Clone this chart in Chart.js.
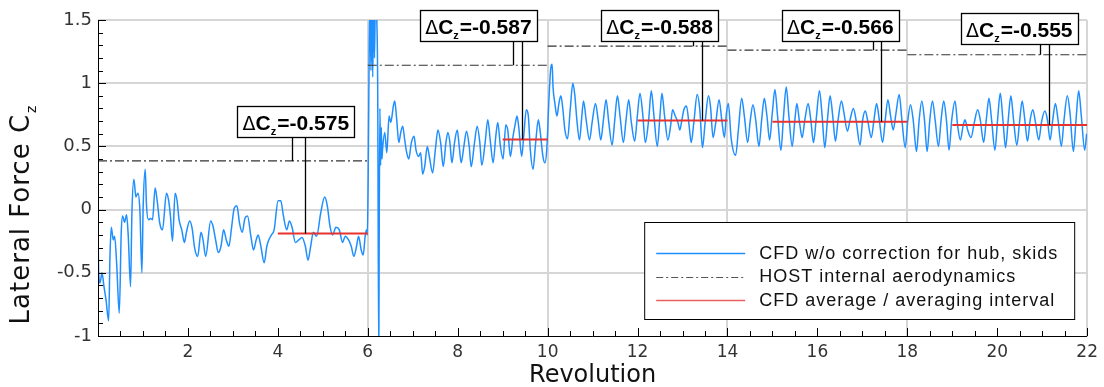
<!DOCTYPE html>
<html><head><meta charset="utf-8">
<script src="https://cdn.jsdelivr.net/npm/chart.js@4/dist/chart.umd.min.js"></script>
<style>html,body{margin:0;padding:0;background:#fff}canvas{display:block}</style>
</head><body>
<canvas id="c" width="1104" height="387"></canvas>
<script>
// ---------- DATA ----------
// CFD lateral force, [revolution, Cz] pairs, per HOST interval
const cfdRev0to6 = [[0,-0.15],[0.015,-0.50],[0.044,-0.58],[0.089,-0.50],[0.133,-0.61],[0.177,-0.71],[0.237,-0.88],[0.266,-0.37],[0.296,-0.14],[0.340,-0.24],[0.370,-0.21],[0.414,-0.42],[0.473,-0.82],[0.517,-0.18],[0.547,-0.05],[0.591,-0.10],[0.636,-0.04],[0.673,-0.21],[0.724,-0.61],[0.754,-0.03],[0.798,0.24],[0.843,0.10],[0.887,0.13],[0.931,0.00],[0.976,-0.50],[1.005,0.03],[1.050,0.32],[1.079,0.03],[1.123,-0.08],[1.168,-0.07],[1.212,-0.08],[1.271,0.17],[1.316,0.07],[1.375,-0.11],[1.434,-0.16],[1.523,0.13],[1.567,0.08],[1.611,-0.05],[1.656,-0.25],[1.715,0.13],[1.759,0.07],[1.803,-0.08],[1.863,-0.16],[1.922,-0.26],[1.966,-0.18],[2.040,-0.09],[2.099,-0.16],[2.143,-0.29],[2.217,-0.37],[2.291,-0.18],[2.336,-0.24],[2.395,-0.37],[2.506,-0.09],[2.557,-0.13],[2.616,-0.24],[2.676,-0.34],[2.735,-0.29],[2.794,-0.16],[2.853,-0.24],[2.912,-0.29],[2.971,-0.14],[3.030,0.01],[3.089,0.03],[3.149,-0.11],[3.208,-0.18],[3.267,-0.07],[3.326,-0.05],[3.400,-0.21],[3.459,-0.32],[3.518,-0.24],[3.562,-0.20],[3.622,-0.29],[3.696,-0.42],[3.755,-0.29],[3.799,-0.24],[3.858,-0.20],[3.917,-0.16],[4.006,0.07],[4.065,0.07],[4.124,-0.05],[4.198,-0.16],[4.257,-0.09],[4.316,-0.14],[4.390,-0.26],[4.464,-0.24],[4.538,-0.22],[4.612,-0.29],[4.671,-0.40],[4.730,-0.29],[4.789,-0.18],[4.863,-0.21],[4.952,-0.03],[5.041,0.10],[5.100,0.03],[5.159,-0.13],[5.218,-0.20],[5.292,-0.14],[5.366,-0.16],[5.440,-0.26],[5.499,-0.21],[5.573,-0.24],[5.632,-0.29],[5.691,-0.37],[5.750,-0.29],[5.795,-0.21],[5.854,-0.32],[5.898,-0.36],[5.942,-0.21],[5.972,-0.16]];
const cfdRev6to10 = [[5.99,-0.20],[6.01,0.30],[6.03,1.20],[6.05,1.70],[6.07,1.10],[6.09,1.60],[6.11,1.05],[6.13,1.65],[6.15,1.20],[6.17,1.70],[6.19,1.60],[6.22,1.00],[6.245,-1.20],[6.255,-0.10],[6.27,0.80],[6.285,0.35],[6.30,0.65],[6.315,0.40],[6.327,0.47],[6.378,0.61],[6.423,0.45],[6.474,0.74],[6.511,0.69],[6.570,0.82],[6.600,0.86],[6.644,0.71],[6.689,0.53],[6.733,0.61],[6.777,0.66],[6.822,0.55],[6.866,0.45],[6.910,0.40],[6.970,0.53],[7.029,0.58],[7.073,0.47],[7.132,0.42],[7.176,0.45],[7.221,0.28],[7.265,0.34],[7.324,0.50],[7.369,0.42],[7.443,0.29],[7.502,0.47],[7.561,0.63],[7.620,0.53],[7.679,0.34],[7.738,0.53],[7.783,0.61],[7.827,0.53],[7.871,0.37],[7.930,0.53],[7.990,0.63],[8.034,0.50],[8.078,0.37],[8.137,0.50],[8.196,0.62],[8.256,0.50],[8.300,0.34],[8.374,0.53],[8.433,0.66],[8.492,0.53],[8.536,0.35],[8.610,0.53],[8.669,0.71],[8.729,0.53],[8.788,0.37],[8.847,0.58],[8.891,0.69],[8.950,0.50],[9.009,0.40],[9.069,0.67],[9.113,0.63],[9.172,0.42],[9.231,0.58],[9.276,0.67],[9.320,0.74],[9.364,0.63],[9.423,0.42],[9.468,0.58],[9.527,0.79],[9.571,0.74],[9.616,0.47],[9.675,0.32],[9.734,0.53],[9.793,0.71],[9.837,0.61],[9.896,0.42],[9.941,0.37],[9.985,0.50]];
const cfdRev10to16 = [[10.03,0.88],[10.07,1.12],[10.10,1.15],[10.12,0.97],[10.162,0.84],[10.207,0.74],[10.251,0.84],[10.295,0.90],[10.340,0.79],[10.384,0.63],[10.443,0.56],[10.502,0.79],[10.561,1.00],[10.606,0.90],[10.650,0.71],[10.709,0.55],[10.754,0.71],[10.798,0.86],[10.857,0.71],[10.931,0.55],[10.990,0.69],[11.064,0.84],[11.123,0.71],[11.182,0.55],[11.241,0.71],[11.300,0.87],[11.360,0.69],[11.434,0.51],[11.493,0.71],[11.552,0.90],[11.611,0.74],[11.685,0.53],[11.744,0.71],[11.803,0.87],[11.862,0.69],[11.936,0.54],[11.995,0.74],[12.054,0.92],[12.114,0.76],[12.173,0.53],[12.247,0.71],[12.306,0.94],[12.365,0.74],[12.439,0.50],[12.498,0.74],[12.542,0.92],[12.601,0.74],[12.675,0.55],[12.734,0.66],[12.779,0.79],[12.838,0.74],[12.897,0.69],[12.941,0.63],[12.986,0.71],[13.030,0.79],[13.089,0.82],[13.148,0.66],[13.193,0.53],[13.252,0.69],[13.326,0.91],[13.385,0.79],[13.444,0.49],[13.503,0.69],[13.577,0.90],[13.621,0.82],[13.680,0.57],[13.740,0.69],[13.813,0.87],[13.873,0.71],[13.932,0.57],[13.976,0.76],[14.020,0.84],[14.080,0.57],[14.183,0.43],[14.242,0.63],[14.316,0.88],[14.375,0.74],[14.449,0.53],[14.508,0.71],[14.567,0.83],[14.627,0.71],[14.700,0.50],[14.760,0.71],[14.819,0.88],[14.878,0.74],[14.937,0.55],[14.996,0.76],[15.055,0.95],[15.114,0.74],[15.188,0.47],[15.247,0.74],[15.307,0.97],[15.366,0.74],[15.440,0.50],[15.499,0.71],[15.543,0.84],[15.602,0.69],[15.661,0.57],[15.720,0.71],[15.794,0.84],[15.853,0.71],[15.913,0.53],[15.972,0.71],[16.046,0.94]];
const cfdRev16to22 = [[16.105,0.74],[16.164,0.49],[16.223,0.71],[16.282,0.90],[16.341,0.74],[16.401,0.54],[16.460,0.71],[16.534,0.86],[16.593,0.76],[16.667,0.62],[16.726,0.71],[16.800,0.80],[16.859,0.71],[16.948,0.51],[17.007,0.71],[17.066,0.78],[17.125,0.69],[17.199,0.57],[17.258,0.71],[17.317,0.84],[17.376,0.71],[17.450,0.53],[17.509,0.71],[17.568,0.87],[17.628,0.74],[17.687,0.63],[17.746,0.76],[17.820,0.91],[17.879,0.71],[17.953,0.49],[18.012,0.71],[18.071,0.83],[18.130,0.71],[18.204,0.46],[18.263,0.71],[18.322,0.86],[18.381,0.71],[18.440,0.46],[18.500,0.71],[18.559,0.86],[18.618,0.71],[18.692,0.50],[18.751,0.71],[18.810,0.86],[18.869,0.71],[18.928,0.47],[18.987,0.71],[19.061,0.86],[19.120,0.66],[19.180,0.55],[19.239,0.66],[19.283,0.71],[19.342,0.63],[19.416,0.57],[19.490,0.69],[19.564,0.79],[19.623,0.71],[19.697,0.53],[19.756,0.71],[19.815,0.88],[19.874,0.71],[19.948,0.47],[20.007,0.71],[20.067,0.92],[20.126,0.71],[20.185,0.49],[20.244,0.71],[20.303,0.90],[20.362,0.71],[20.436,0.51],[20.495,0.69],[20.554,0.86],[20.613,0.71],[20.672,0.54],[20.732,0.71],[20.791,0.79],[20.850,0.69],[20.924,0.55],[20.983,0.69],[21.057,0.78],[21.116,0.71],[21.175,0.55],[21.234,0.71],[21.293,0.84],[21.352,0.71],[21.426,0.50],[21.485,0.71],[21.559,0.90],[21.619,0.76],[21.693,0.46],[21.752,0.71],[21.811,0.94],[21.870,0.74],[21.944,0.47],[21.988,0.60]];

// HOST internal aerodynamics (step levels)
const hostStart = [0, 6, 10, 14, 18];
const hostEnd   = [6, 10, 14, 18, 22];
const hostValue = [0.385, 1.142, 1.293, 1.261, 1.225];

// CFD average over averaging interval
const avgStart = [4, 9, 12, 15, 19];
const avgEnd   = [6, 10, 14, 18, 22];
const avgValue = [-0.19, 0.555, 0.705, 0.695, 0.67];

// Delta annotations
const deltaLabels = ['-0.575', '-0.587', '-0.588', '-0.566', '-0.555'];
const hostLinkRev = [4.32, 9.22, 13.23, 17.24, 20.95];
const avgLinkRev  = [4.61, 9.44, 13.43, 17.42, 21.15];

// Ticks
const xTicks = [0, 2, 4, 6, 8, 10, 12, 14, 16, 18, 20, 22];
const yTicks = [-1, -0.5, 0, 0.5, 1, 1.5];
const xGridAt = [6, 10, 14, 18, 22];

const seriesLabels = ['CFD w/o correction for hub, skids', 'HOST internal aerodynamics', 'CFD average / averaging interval'];

// ---------- build library data ----------
const cfdPoints = [].concat(cfdRev0to6, cfdRev6to10, cfdRev10to16, cfdRev16to22).map(p => ({x: p[0], y: p[1]}));
function steps(s, e, v) {
  const out = [];
  for (let i = 0; i < s.length; i++) {
    out.push({x: s[i], y: v[i]}, {x: e[i], y: v[i]});
    if (i < s.length - 1) out.push({x: e[i], y: null});
  }
  return out;
}

// ---------- styles / layout (not data) ----------
const BLUE = '#1f8fff', RED = '#e8322e', HOSTC = '#333333', GRID = '#d6d6d6';
const boxCenterRev = [4.40, 8.46, 12.49, 16.51, 20.49];
const boxTopCz = [0.823, 1.582, 1.582, 1.582, 1.559];

const axisDeco = {
  id: 'axisDeco',
  beforeDatasetsDraw(chart) {
    const {ctx, chartArea: a, scales: {x, y}} = chart;
    ctx.save();
    ctx.fillStyle = GRID;
    yTicks.forEach(v => {
      if (v === -1) return;
      const py = Math.round(y.getPixelForValue(v));
      ctx.fillRect(Math.round(a.left), py - 1, Math.round(a.right - a.left), 2);
    });
    xGridAt.forEach(v => {
      const px = Math.round(x.getPixelForValue(v));
      ctx.fillRect(px - 1, Math.round(a.top), 2, Math.round(a.bottom - a.top));
    });
    ctx.restore();
  },
  afterDatasetsDraw(chart) {
    const {ctx, chartArea: a, scales: {x, y}} = chart;
    ctx.save();
    ctx.strokeStyle = '#000';
    ctx.lineWidth = 1;
    ctx.beginPath();
    ctx.moveTo(a.left + 0.5, a.top); ctx.lineTo(a.left + 0.5, a.bottom + 0.5);
    ctx.lineTo(a.right, a.bottom + 0.5);
    for (let k = -10; k <= 15; k++) {
      const py = Math.round(y.getPixelForValue(k / 10)) + 0.5;
      const len = (k % 5 === 0) ? 8 : 5;
      ctx.moveTo(a.left, py); ctx.lineTo(a.left + len, py);
    }
    for (let k = 0; k <= 44; k++) {
      const px = Math.round(x.getPixelForValue(k / 2)) + 0.5;
      const len = (k % 4 === 0) ? 8 : 5;
      ctx.moveTo(px, a.bottom); ctx.lineTo(px, a.bottom - len);
    }
    ctx.stroke();
    ctx.restore();
  },
  afterDraw(chart) {
    const {ctx, chartArea: a, scales: {x, y}} = chart;
    ctx.save();
    ctx.fillStyle = '#111';
    ctx.font = '24px "DejaVu Sans"';
    ctx.textAlign = 'center';
    ctx.textBaseline = 'middle';
    ctx.fillText('Revolution', (a.left + a.right) / 2, a.bottom + 40);
    ctx.translate(22, a.bottom - 122);
    ctx.rotate(-Math.PI / 2);
    ctx.font = '26px "DejaVu Sans"';
    ctx.textAlign = 'left';
    try { ctx.letterSpacing = '1px'; } catch (e) {}
    const t1 = 'Lateral Force C';
    const w1 = ctx.measureText(t1).width;
    ctx.font = '14px "DejaVu Sans"';
    const wz = ctx.measureText('z').width;
    const x0 = -(w1 + wz + 2) / 2;
    ctx.font = '26px "DejaVu Sans"';
    ctx.fillText(t1, x0, 0);
    ctx.font = '14px "DejaVu Sans"';
    ctx.fillText('z', x0 + w1 + 1, 10);
    ctx.restore();

    ctx.save();
    for (let i = 0; i < deltaLabels.length; i++) {
      const cx = x.getPixelForValue(boxCenterRev[i]);
      const top = Math.round(y.getPixelForValue(boxTopCz[i])) + 0.5;
      const w = 117, h = 31;
      const left = Math.round(cx - w / 2) + 0.5;
      ctx.strokeStyle = '#000';
      ctx.lineWidth = 1.3;
      ctx.beginPath();
      const hx = Math.round(x.getPixelForValue(hostLinkRev[i])) + 0.5;
      const ax = Math.round(x.getPixelForValue(avgLinkRev[i])) + 0.5;
      ctx.moveTo(hx, top + h); ctx.lineTo(hx, y.getPixelForValue(hostValue[i]));
      ctx.moveTo(ax, top + h); ctx.lineTo(ax, y.getPixelForValue(avgValue[i]));
      ctx.stroke();
      ctx.fillStyle = '#fff';
      ctx.fillRect(left, top, w, h);
      ctx.strokeRect(left, top, w, h);
      ctx.fillStyle = '#000';
      ctx.textBaseline = 'alphabetic';
      ctx.textAlign = 'left';
      const fD = '19px "DejaVu Sans"', fC = 'bold 21px "Liberation Sans"', fZ = 'bold 11px "Liberation Sans"';
      const rest = '=' + deltaLabels[i];
      ctx.font = fD; const wD = ctx.measureText('\u0394').width;
      ctx.font = fC; const wC = ctx.measureText('C').width; const wR = ctx.measureText(rest).width;
      ctx.font = fZ; const wZ = ctx.measureText('z').width;
      let tx = cx - (wD + wC + wZ + wR + 1) / 2;
      const base = top + 23;
      ctx.font = fD; ctx.fillText('\u0394', tx, base); tx += wD;
      ctx.font = fC; ctx.fillText('C', tx, base); tx += wC;
      ctx.font = fZ; ctx.fillText('z', tx, base + 5); tx += wZ + 1;
      ctx.font = fC; ctx.fillText(rest, tx, base);
    }
    ctx.restore();

    ctx.save();
    const lx = a.right - 443, ly = a.bottom - 114, lw = 430, lh = 97;
    ctx.fillStyle = '#fff';
    ctx.fillRect(lx + 0.5, ly + 0.5, lw, lh);
    ctx.strokeStyle = '#000';
    ctx.lineWidth = 1;
    ctx.strokeRect(lx + 0.5, ly + 0.5, lw, lh);
    const rows = [
      {c: BLUE, dash: [], lw: 1.3, t: seriesLabels[0]},
      {c: '#555', dash: [7, 3, 2, 3], lw: 1.2, t: seriesLabels[1]},
      {c: '#e86060', dash: [], lw: 1.6, t: seriesLabels[2]}
    ];
    ctx.font = '18px "Liberation Sans"';
    try { ctx.letterSpacing = '1px'; } catch (e) {}
    ctx.textBaseline = 'middle';
    ctx.textAlign = 'left';
    rows.forEach((r, j) => {
      const ry = ly + 31 + j * 23.5;
      ctx.strokeStyle = r.c; ctx.lineWidth = r.lw; ctx.setLineDash(r.dash);
      ctx.beginPath(); ctx.moveTo(lx + 12, Math.round(ry) + 0.5); ctx.lineTo(lx + 101, Math.round(ry) + 0.5); ctx.stroke();
      ctx.setLineDash([]);
      ctx.fillStyle = '#111';
      ctx.fillText(r.t, lx + 115, ry + 1);
    });
    ctx.restore();
  }
};

new Chart(document.getElementById('c'), {
  type: 'line',
  data: {
    datasets: [
      {label: seriesLabels[2], data: steps(avgStart, avgEnd, avgValue), borderColor: RED, borderWidth: 2, pointRadius: 0, spanGaps: false, tension: 0},
      {label: seriesLabels[1], data: steps(hostStart, hostEnd, hostValue), borderColor: HOSTC, borderWidth: 1.2, borderDash: [9, 3, 2, 3], pointRadius: 0, spanGaps: false, tension: 0},
      {label: seriesLabels[0], data: cfdPoints, borderColor: BLUE, borderWidth: 1.5, pointRadius: 0, cubicInterpolationMode: 'monotone'}
    ]
  },
  options: {
    responsive: false, animation: false, devicePixelRatio: 1,
    layout: {padding: {top: 20, right: 14, left: 0, bottom: 0}},
    plugins: {legend: {display: false}, tooltip: {enabled: false}},
    scales: {
      x: {
        type: 'linear', min: 0, max: 22,
        afterBuildTicks: s => { s.ticks = xTicks.map(v => ({value: v})); },
        afterFit: s => { s.height = 51; },
        grid: {display: false, drawTicks: false},
        border: {display: false},
        ticks: {padding: 6, autoSkip: false, maxRotation: 0, color: '#333', font: {family: 'DejaVu Sans', size: 17}, callback: v => v === 0 ? '' : String(v)}
      },
      y: {
        min: -1, max: 1.5,
        afterBuildTicks: s => { s.ticks = yTicks.map(v => ({value: v})); },
        afterFit: s => { s.width = 98; },
        grid: {display: false, drawTicks: false},
        border: {display: false},
        ticks: {padding: 6, color: '#333', font: {family: 'DejaVu Sans', size: 18}, callback: v => String(v)}
      }
    }
  },
  plugins: [axisDeco]
});
</script>
</body></html>
